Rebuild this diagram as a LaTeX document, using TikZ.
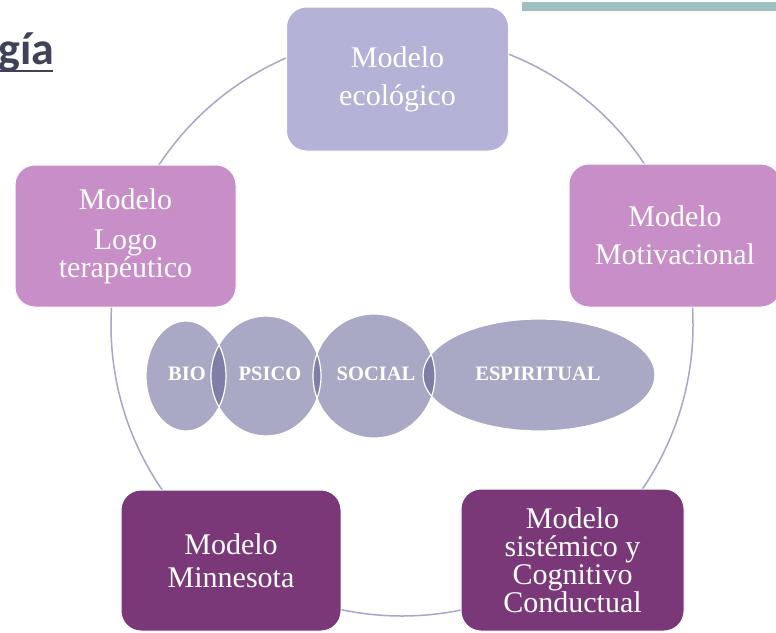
\documentclass[tikz,border=0pt]{standalone}
\usepackage{fontspec}
\setmainfont{Liberation Serif}
\newfontfamily\titlefont{Carlito}
\definecolor{topc}{HTML}{B4B2D6}
\definecolor{midc}{HTML}{C78EC8}
\definecolor{darkc}{HTML}{7A3878}
\definecolor{ellc}{HTML}{A9A8C5}
\definecolor{ovlc}{HTML}{7F7EA6}
\definecolor{ringc}{HTML}{A7A6CC}
\definecolor{titlec}{HTML}{404357}
\definecolor{barc}{HTML}{A0BFC0}
\begin{document}
\begin{tikzpicture}[x=1pt,y=-1pt,
  modelbox/.style={rounded corners=20pt, draw=white, line width=1pt, text=white, align=center, inner sep=0pt},
  ringline/.style={draw=ringc, line width=1.5pt},
  ellout/.style={draw=white, line width=1.2pt},
  elltext/.style={text=white, font=\bfseries\fontsize{20.5}{20.5}\selectfont, inner sep=0pt}]
\clip (0,0) rectangle (776,632);
\fill[white] (0,0) rectangle (776,632);
% title fragment and top bar
\node[anchor=base west, text=titlec, font=\titlefont\bfseries\fontsize{46}{46}\selectfont, inner sep=0pt] (title) at (-2,64) {gía};
\draw[titlec, line width=2.5pt] (0,71) -- (53,71);
\fill[barc] (522,2) rectangle (776,11);
% ring
\draw[ringline] (402,325) circle (291pt);
% boxes
\node[modelbox, fill=topc, minimum width=222pt, minimum height=144pt, font=\fontsize{30}{38}\selectfont] (top) at (397.5,79) {Modelo\\ecológico};
\node[modelbox, fill=midc, minimum width=221pt, minimum height=142pt, font=\fontsize{30}{28}\selectfont] (left) at (125.5,236) {Modelo\\[12pt]Logo\\terapéutico};
\node[modelbox, fill=midc, minimum width=212pt, minimum height=143pt, font=\fontsize{30}{38}\selectfont] (right) at (675,235.5) {Modelo\\Motivacional};
\node[modelbox, fill=darkc, minimum width=220pt, minimum height=141pt, font=\fontsize{30}{33}\selectfont] (bl) at (231,560.5) {Modelo\\Minnesota};
\node[modelbox, fill=darkc, minimum width=223pt, minimum height=142pt, font=\fontsize{30}{28}\selectfont] (br) at (572.5,560) {Modelo\\sistémico y\\Cognitivo\\Conductual};
% ellipses
\fill[ellc] (186,376) ellipse [x radius=40pt, y radius=55pt];
\fill[ellc] (266,376) ellipse [x radius=55pt, y radius=60pt];
\fill[ellc] (374,376) ellipse [x radius=61pt, y radius=62pt];
\fill[ellc] (539,375) ellipse [x radius=116pt, y radius=56pt];
\begin{scope}
  \clip (186,376) ellipse [x radius=40pt, y radius=55pt];
  \fill[ovlc] (266,376) ellipse [x radius=55pt, y radius=60pt];
\end{scope}
\begin{scope}
  \clip (266,376) ellipse [x radius=55pt, y radius=60pt];
  \fill[ovlc] (374,376) ellipse [x radius=61pt, y radius=62pt];
\end{scope}
\begin{scope}
  \clip (374,376) ellipse [x radius=61pt, y radius=62pt];
  \fill[ovlc] (539,375) ellipse [x radius=116pt, y radius=56pt];
\end{scope}
\draw[ellout] (186,376) ellipse [x radius=40pt, y radius=55pt];
\draw[ellout] (266,376) ellipse [x radius=55pt, y radius=60pt];
\draw[ellout] (374,376) ellipse [x radius=61pt, y radius=62pt];
\draw[ellout] (539,375) ellipse [x radius=116pt, y radius=56pt];
\node[elltext] (bio) at (187,374) {BIO};
\node[elltext] (psico) at (270,374) {PSICO};
\node[elltext] (social) at (376,374) {SOCIAL};
\node[elltext] (espiritual) at (538,374) {ESPIRITUAL};
\end{tikzpicture}
\end{document}
